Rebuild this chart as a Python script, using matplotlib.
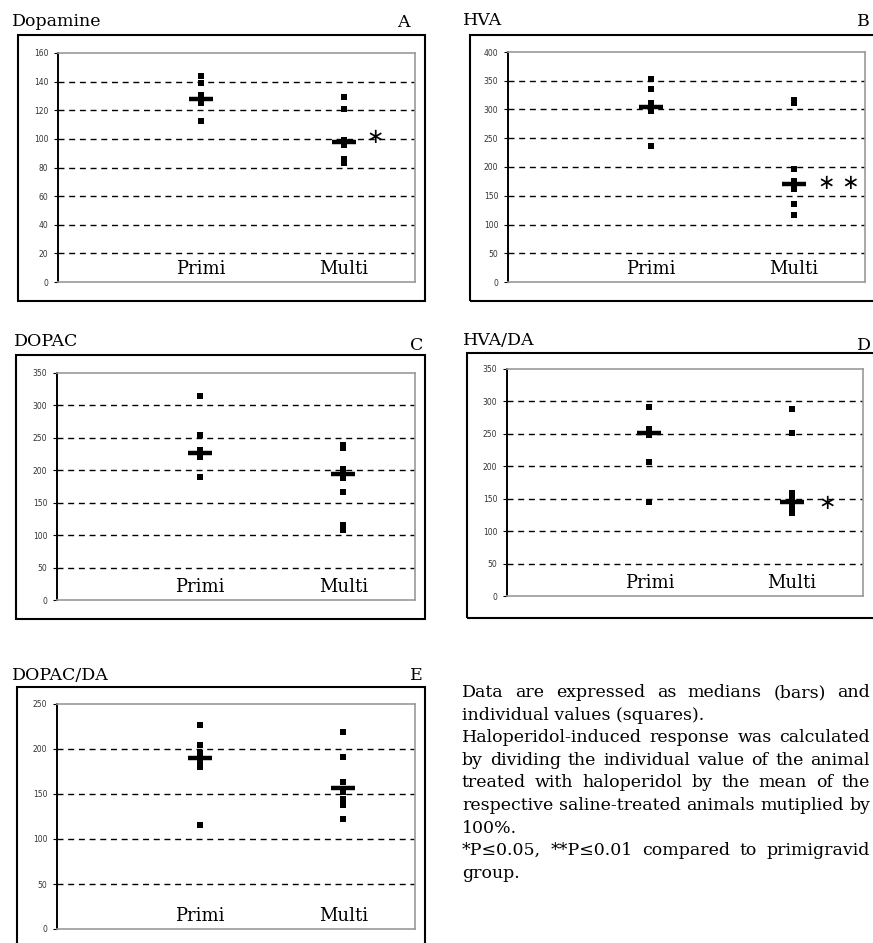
import matplotlib
matplotlib.use('Agg')
import matplotlib.pyplot as plt
from matplotlib.patches import Rectangle

W, H = 873, 943

# individual values (squares) and medians (bars) per panel
groups = ['Primi', 'Multi']

da_primi = [144, 139, 131, 125, 112.5]
da_multi = [129.5, 121, 99, 96, 86, 83]
da_med = [128, 98]

hva_primi = [353, 336, 312, 298, 237]
hva_multi = [317, 312, 196, 175, 162, 136, 117]
hva_med = [305, 170]

dopac_primi = [314, 254, 232, 220, 190]
dopac_multi = [239, 234, 202, 188, 166, 116, 108]
dopac_med = [226, 195]

hvada_primi = [291, 258, 248, 207, 145]
hvada_multi = [289, 252, 159, 150, 140, 131, 128]
hvada_med = [252, 145]

dopacda_primi = [227, 204, 196, 184, 180, 115.5]
dopacda_multi = [219, 191.5, 163, 152, 144, 138, 122]
dopacda_med = [190, 157]

panels = [
    # name, letter, primi, multi, medians, ymax, step, stars
    ('Dopamine', 'A', da_primi, da_multi, da_med, 160, 20, '∗', 101.5),
    ('HVA', 'B', hva_primi, hva_multi, hva_med, 400, 50, '∗ ∗', 172),
    ('DOPAC', 'C', dopac_primi, dopac_multi, dopac_med, 350, 50, None, None),
    ('HVA/DA', 'D', hvada_primi, hvada_multi, hvada_med, 350, 50, '∗', 144),
    ('DOPAC/DA', 'E', dopacda_primi, dopacda_multi, dopacda_med, 250, 50, None, None),
]

# pixel boxes: inner plot (x0, y0, x1, y1), outer frame, title pos, letter pos
inner = [(58, 53, 415, 282), (508, 52, 865, 282), (57, 373, 415, 600),
         (507, 369, 863, 596), (57, 704, 415, 929)]
outer = [(18, 35, 425, 301), (470, 35, 890, 301), (16, 355, 425, 619),
         (467, 353, 890, 618), (17, 687, 425, 960)]
title_xy = [(12, 26), (463, 25), (14, 346), (463, 345), (12, 680)]
letter_xy = [(397, 27), (857, 26), (410, 350), (857, 350), (410, 680)]
star_x = [375, 839, None, 827, None]

serif = 'DejaVu Serif'

fig = plt.figure(figsize=(W / 100, H / 100), dpi=100)


def fx(px):
    return px / W


def fy(py):
    return 1 - py / H


for i, (name, letter, primi, multi, med, ymax, step, stars, star_y) in enumerate(panels):
    x0, y0, x1, y1 = inner[i]
    ax = fig.add_axes([fx(x0), fy(y1), (x1 - x0) / W, (y1 - y0) / H])
    ax.set_xlim(0, 2.5)
    ax.set_ylim(0, ymax)

    ticks = list(range(0, ymax + 1, step))
    ax.set_yticks(ticks)
    ax.set_yticklabels([str(t) for t in ticks], fontsize=5.5, color='#333333')
    ax.set_xticks([])
    ax.tick_params(axis='y', length=3, width=0.8, pad=4, color='black')
    for t in ticks[1:-1]:
        ax.axhline(t, color='black', lw=1.0, ls=(0, (4.3, 3.4)), zorder=1)

    for s in ['top', 'right', 'bottom']:
        ax.spines[s].set_color('#9a9a9a')
        ax.spines[s].set_linewidth(1.2)
    ax.spines['left'].set_color('black')
    ax.spines['left'].set_linewidth(1.4)

    ax.plot([1] * len(primi), primi, 's', color='black', ms=4.6, mew=0, zorder=3)
    ax.plot([2] * len(multi), multi, 's', color='black', ms=4.6, mew=0, zorder=3)
    ax.plot([1, 2], med, '_', color='black', ms=17, mew=3.2, zorder=4)

    for k, g in enumerate(groups):
        ax.text(k + 1, 0.035, g, transform=ax.get_xaxis_transform(),
                ha='center', va='baseline', family=serif, fontsize=13)

    if stars:
        sx = (star_x[i] - x0) / (x1 - x0) * 2.5
        ax.text(sx, star_y, stars, ha='center', va='center',
                family='DejaVu Sans', fontsize=15)

    ox0, oy0, ox1, oy1 = outer[i]
    fig.patches.append(Rectangle((fx(ox0), fy(oy1)), (ox1 - ox0) / W, (oy1 - oy0) / H,
                                 transform=fig.transFigure, fill=False,
                                 edgecolor='black', lw=1.5, zorder=0))

    tx, ty = title_xy[i]
    fig.text(fx(tx), fy(ty), name, family=serif, fontsize=12.5, va='baseline')
    lx, ly = letter_xy[i]
    fig.text(fx(lx), fy(ly), letter, family=serif, fontsize=12.5, va='baseline')

# caption, justified like the original
lines = [
    ("Data are expressed as medians (bars) and", True),
    ("individual values (squares).", False),
    ("Haloperidol-induced response was calculated", True),
    ("by dividing the individual value of the animal", True),
    ("treated with haloperidol by the mean of the", True),
    ("respective saline-treated animals mutiplied by", True),
    ("100%.", False),
    ("*P≤0.05, **P≤0.01 compared to primigravid", True),
    ("group.", False),
]
left_px, right_px = 462, 870
base0, spacing = 697, 22.6
renderer = fig.canvas.get_renderer()

for n, (line, justify) in enumerate(lines):
    by = base0 + n * spacing
    if not justify:
        fig.text(fx(left_px), fy(by), line, family=serif, fontsize=12.5, va='baseline')
        continue
    words = line.split(' ')
    widths = []
    texts = []
    for w in words:
        t = fig.text(0, fy(by), w, family=serif, fontsize=12.5, va='baseline')
        widths.append(t.get_window_extent(renderer).width)
        texts.append(t)
    gap = (right_px - left_px - sum(widths)) / (len(words) - 1)
    x = left_px
    for t, wd in zip(texts, widths):
        t.set_x(fx(x))
        x += wd + gap

fig.savefig('out.png', dpi=100)
